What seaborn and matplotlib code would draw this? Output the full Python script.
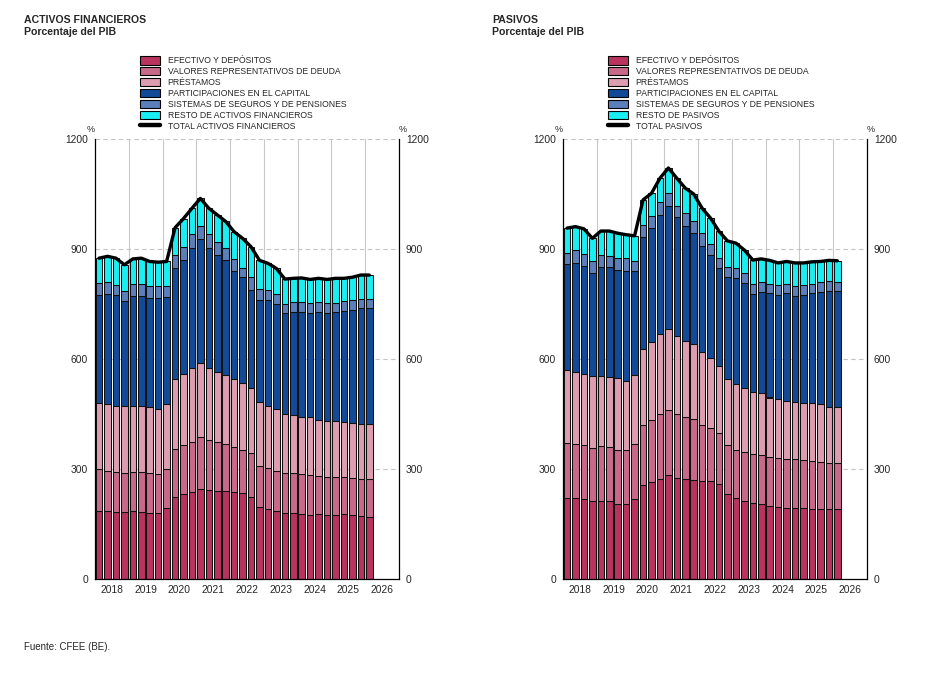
import numpy as np
import pandas as pd
import seaborn as sns
import matplotlib.pyplot as plt
from matplotlib.patches import Patch
from matplotlib.lines import Line2D

# trimestres 2018T1 - 2026T1
quarters = pd.period_range('2018Q1', '2026Q1', freq='Q')
years = list(range(2018, 2027))

# ACTIVOS FINANCIEROS (% PIB)
act_efectivo = [185, 185, 182, 182, 185, 182, 179, 179, 193, 225, 232, 238, 245, 243, 240, 240, 236,
                234, 225, 197, 191, 185, 179, 179, 176, 175, 176, 174, 174, 176, 174, 172, 170]
act_valores = [115, 110, 111, 108, 108, 111, 110, 108, 107, 129, 133, 137, 143, 136, 135, 128, 125,
               118, 118, 112, 111, 110, 111, 109, 110, 109, 105, 105, 105, 101, 101, 101, 102]
act_prestamos = [179, 182, 180, 182, 180, 180, 179, 178, 177, 191, 194, 201, 202, 196, 190, 188, 184,
                 182, 177, 175, 171, 169, 160, 159, 157, 157, 153, 153, 153, 152, 150, 149, 150]
act_participaciones = [296, 300, 301, 286, 298, 298, 298, 301, 293, 302, 311, 326, 337, 327, 319, 314, 295,
                       290, 268, 278, 287, 286, 276, 282, 286, 285, 295, 294, 296, 302, 309, 316, 318]
act_seguros = [32, 32, 29, 27, 34, 34, 34, 32, 30, 38, 36, 38, 36, 38, 34, 34, 33,
               25, 36, 28, 28, 27, 24, 27, 27, 26, 27, 26, 26, 27, 27, 25, 23]
act_resto = [68, 71, 72, 72, 68, 70, 66, 66, 66, 73, 77, 71, 75, 71, 75, 71, 74,
             80, 82, 79, 73, 70, 68, 64, 65, 65, 64, 65, 66, 62, 62, 66, 66]

# PASIVOS (% PIB)
pas_efectivo = [222, 221, 217, 214, 214, 212, 205, 205, 217, 257, 264, 272, 284, 275, 274, 271, 266,
                266, 260, 233, 222, 214, 208, 205, 199, 196, 193, 193, 193, 191, 191, 191, 191]
pas_valores = [150, 146, 148, 144, 149, 148, 148, 148, 150, 162, 171, 179, 178, 175, 168, 165, 155,
               147, 137, 132, 131, 133, 132, 132, 134, 134, 133, 133, 131, 131, 128, 125, 125]
pas_prestamos = [198, 198, 193, 196, 190, 190, 194, 188, 189, 207, 212, 217, 220, 213, 208, 204, 197,
                 191, 184, 180, 179, 175, 169, 171, 162, 162, 160, 157, 157, 157, 157, 154, 154]
pas_participaciones = [289, 298, 296, 281, 299, 300, 296, 300, 284, 308, 310, 325, 334, 324, 313, 303, 290,
                       280, 268, 278, 288, 284, 269, 275, 285, 283, 294, 288, 294, 301, 307, 315, 315]
pas_seguros = [31, 34, 33, 31, 32, 32, 33, 35, 27, 32, 32, 34, 36, 29, 35, 34, 35,
               29, 27, 29, 27, 28, 26, 26, 25, 28, 25, 27, 28, 25, 26, 27, 26]
pas_resto = [67, 64, 68, 63, 65, 67, 67, 63, 69, 68, 63, 66, 69, 77, 68, 73, 68,
             71, 72, 70, 69, 63, 66, 64, 64, 59, 61, 64, 59, 60, 57, 57, 57]

labels_act = ['EFECTIVO Y DEPÓSITOS', 'VALORES REPRESENTATIVOS DE DEUDA', 'PRÉSTAMOS',
              'PARTICIPACIONES EN EL CAPITAL', 'SISTEMAS DE SEGUROS Y DE PENSIONES',
              'RESTO DE ACTIVOS FINANCIEROS', 'TOTAL ACTIVOS FINANCIEROS']
labels_pas = ['EFECTIVO Y DEPÓSITOS', 'VALORES REPRESENTATIVOS DE DEUDA', 'PRÉSTAMOS',
              'PARTICIPACIONES EN EL CAPITAL', 'SISTEMAS DE SEGUROS Y DE PENSIONES',
              'RESTO DE PASIVOS', 'TOTAL PASIVOS']
colors = ['#B8345E', '#C9698A', '#DD9DB0', '#134A98', '#5B7FBA', '#19EEF2']

sns.set_style('white')
plt.rcParams['font.family'] = ['Liberation Sans', 'DejaVu Sans']

W, H = 951, 676
fig = plt.figure(figsize=(W / 100, H / 100), dpi=100)


def panel(left_px, layers, labels, title, leg_px):
    ax = fig.add_axes([left_px / W, 97 / H, 304 / W, 440 / H])
    x = np.arange(len(quarters))
    bottom = np.zeros(len(x))
    for vals, col in zip(layers, colors):
        vals = np.array(vals, dtype=float)
        ax.bar(x + 0.09, vals, width=0.78, bottom=bottom, align='edge', color=col,
               edgecolor='#111111', linewidth=0.75, zorder=2)
        bottom = bottom + vals
    tot = pd.DataFrame({'x': x + 0.48, 'total': bottom})
    sns.lineplot(data=tot, x='x', y='total', ax=ax, color='black', lw=2.4, zorder=3,
                 solid_joinstyle='round', solid_capstyle='round')

    ax.set_xlim(0, 36)
    ax.set_ylim(0, 1200)
    ax.set_yticks([0, 300, 600, 900, 1200])
    ax.yaxis.grid(True, color='#c4c4c4', ls=(0, (4, 3)), lw=0.8, zorder=0)
    for b in range(4, 36, 4):
        ax.axvline(b, color='#c8c8c8', lw=0.8, zorder=0)
    ax.set_xticks([2 + 4 * k for k in range(len(years))])
    ax.set_xticklabels([str(y) for y in years])
    ax.set_xticks(np.arange(0, 37, 1), minor=True)
    ax.tick_params(axis='x', which='major', length=0, pad=4, labelsize=7.4)
    ax.tick_params(axis='x', which='minor', direction='in', length=3, width=0.8, color='black')
    ax.tick_params(axis='y', length=0, labelleft=True, labelright=True, pad=5, labelsize=7.4)
    ax.set_xlabel('')
    ax.set_ylabel('')
    for s in ['left', 'right', 'bottom']:
        ax.spines[s].set_visible(True)
        ax.spines[s].set_color('black')
        ax.spines[s].set_linewidth(0.9)
    ax.spines['top'].set_visible(False)
    ax.text(0, 1.012, '%', transform=ax.transAxes, ha='right', va='bottom', fontsize=6.5)
    ax.text(1, 1.012, '%', transform=ax.transAxes, ha='left', va='bottom', fontsize=6.5)

    handles = [Patch(facecolor=c, edgecolor='black', linewidth=0.8) for c in colors]
    handles.append(Line2D([], [], color='black', lw=3.2))
    ax.legend(handles, labels, loc='upper left', bbox_to_anchor=(leg_px / W, 1 - 56 / H),
              bbox_transform=fig.transFigure, frameon=False, fontsize=6.2, borderpad=0,
              borderaxespad=0, handlelength=2.3, handleheight=1.15, labelspacing=0.2,
              handletextpad=0.9)

    fig.text((left_px - 71) / W, 1 - 20 / H, title, fontsize=7.6, fontweight='bold', va='center')
    fig.text((left_px - 71) / W, 1 - 32 / H, 'Porcentaje del PIB', fontsize=7.6,
             fontweight='bold', va='center')
    return ax


panel(95, [act_efectivo, act_valores, act_prestamos, act_participaciones, act_seguros, act_resto],
      labels_act, 'ACTIVOS FINANCIEROS', 140)
panel(563, [pas_efectivo, pas_valores, pas_prestamos, pas_participaciones, pas_seguros, pas_resto],
      labels_pas, 'PASIVOS', 608)

fig.text(24 / W, 1 - 647 / H, 'Fuente: CFEE (BE).', fontsize=7, va='center')

fig.savefig('out.png', dpi=100)
